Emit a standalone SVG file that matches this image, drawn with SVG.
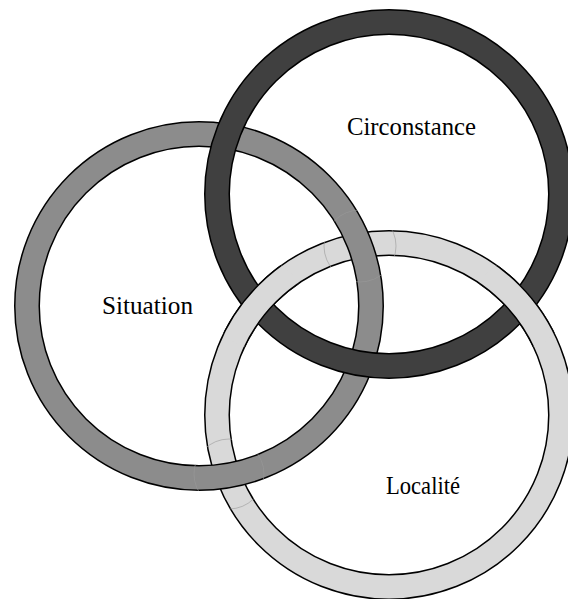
<svg xmlns="http://www.w3.org/2000/svg" width="568" height="599" viewBox="0 0 568 599">
<style>
.edge{fill:none;stroke:#000;stroke-width:26}
.band{fill:none;stroke-width:23}
.wide{fill:none;stroke-width:25}
.line{fill:none;stroke:#000;stroke-width:1.5}
.dark{stroke:#404040}
.mid{stroke:#8c8c8c}
.light{stroke:#d9d9d9}
.label{font-family:"Liberation Serif","DejaVu Serif",serif;font-size:25px;fill:#000}
.seam{fill:none;stroke:#9a9a9a;stroke-width:0.6}
</style>
<defs>
<clipPath id="over1"><circle cx="258" cy="304" r="45"/></clipPath>
<clipPath id="over2"><circle cx="520" cy="304" r="45"/></clipPath>
<clipPath id="bands">
<path clip-rule="evenodd" d="M14,306a185,185 0 1,0 370,0a185,185 0 1,0 -370,0ZM40,306a159,159 0 1,0 318,0a159,159 0 1,0 -318,0Z"/>
<path clip-rule="evenodd" d="M204,415a185,185 0 1,0 370,0a185,185 0 1,0 -370,0ZM230,415a159,159 0 1,0 318,0a159,159 0 1,0 -318,0Z"/>
</clipPath>
</defs>
<rect width="568" height="599" fill="#fff"/>
<g id="localite">
<circle class="edge" cx="389" cy="415" r="172"/>
<circle class="band light" cx="389" cy="415" r="172"/>
<text class="label" x="386" y="494" textLength="74" lengthAdjust="spacingAndGlyphs">Localité</text>
</g>
<g id="situation">
<circle class="edge" cx="199" cy="306" r="172"/>
<circle class="band mid" cx="199" cy="306" r="172"/>
<text class="label" x="102" y="314" textLength="91" lengthAdjust="spacingAndGlyphs">Situation</text>
</g>
<g id="circonstance">
<circle class="edge" cx="389" cy="194" r="172"/>
<circle class="band dark" cx="389" cy="194" r="172"/>
<text class="label" x="347" y="135" textLength="129" lengthAdjust="spacingAndGlyphs">Circonstance</text>
</g>
<g id="interlace">
<g clip-path="url(#over1)">
<circle class="wide light" cx="389" cy="415" r="172"/>
<circle class="line" cx="389" cy="415" r="184.25"/>
<circle class="line" cx="389" cy="415" r="159.75"/>
</g>
<g clip-path="url(#over2)">
<circle class="wide light" cx="389" cy="415" r="172"/>
<circle class="line" cx="389" cy="415" r="184.25"/>
<circle class="line" cx="389" cy="415" r="159.75"/>
</g>
<g clip-path="url(#bands)">
<circle class="seam" cx="360" cy="246" r="36"/>
<circle class="seam" cx="229" cy="474" r="35"/>
</g>
</g>
</svg>
